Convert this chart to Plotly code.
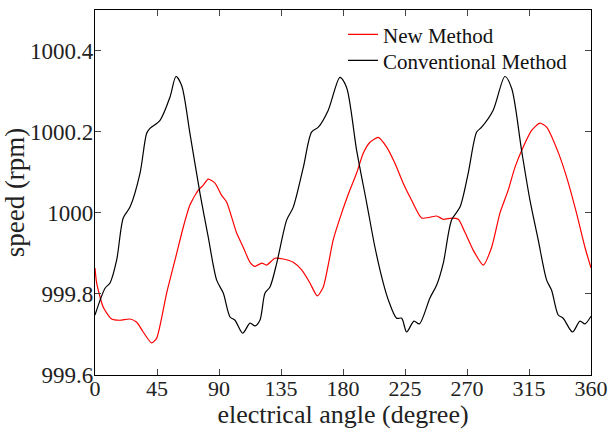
import plotly.graph_objects as go

# Conventional method (black)
conv_angle = [0, 7.3, 10.9, 15.7, 20.5, 25.4, 32.7, 37.5, 39.9, 47.2, 54.4, 58.8, 62.9, 68.9, 76.2,
              82.2, 88.3, 93.1, 98, 101.6, 107.2, 112.5, 116.1, 119.7, 123.4, 127, 131.9, 139.1,
              143.9, 151.2, 157.2, 162.1, 169.3, 177.8, 182.6, 189.9, 197.2, 203.2, 209.2, 212.9,
              218.9, 222.6, 226.2, 231.5, 235.4, 243.1, 248, 252.8, 258.8, 264.9, 270.9, 277,
              280.6, 289, 297.5, 302.4, 309.6, 315.7, 321.7, 327.8, 331.4, 336.2, 339.8, 346.6,
              352, 355.6, 360]
conv_speed = [999.748, 999.814, 999.827, 999.883, 999.987, 1000.014, 1000.098, 1000.196, 1000.208,
              1000.228, 1000.285, 1000.336, 1000.314, 1000.196, 1000.048, 999.94, 999.834, 999.802,
              999.743, 999.735, 999.703, 999.728, 999.721, 999.735, 999.802, 999.817, 999.876,
              999.982, 1000.014, 1000.112, 1000.199, 1000.211, 1000.253, 1000.334, 1000.309,
              1000.154, 1000.024, 999.915, 999.827, 999.785, 999.74, 999.74, 999.706, 999.733,
              999.726, 999.79, 999.822, 999.876, 999.982, 1000.014, 1000.098, 1000.199, 1000.211,
              1000.253, 1000.336, 1000.307, 1000.154, 1000.031, 999.933, 999.834, 999.809, 999.748,
              999.74, 999.706, 999.733, 999.726, 999.745]

# New method (red)
new_angle = [0, 1.2, 6, 12.1, 18.1, 25.4, 30.3, 35, 41.1, 44.8, 52, 59.3, 64.1, 68.9, 75, 78.6,
             82.2, 87.1, 91.9, 95.6, 102.8, 107.6, 112.5, 116.1, 121, 124.6, 130.6, 136.7, 143.9,
             150, 156, 161.3, 165.7, 172.9, 179, 185, 189.9, 194.7, 199.6, 205.6, 211.7, 217.7,
             223.7, 229.8, 237.1, 243.1, 248, 252.8, 258.8, 263.7, 268.5, 274.5, 281.8, 287.9,
             293.9, 299.9, 304.8, 310.8, 316.9, 322.9, 327.8, 336.2, 342.3, 349.5, 355.6, 360]
new_speed = [999.864, 999.827, 999.767, 999.738, 999.735, 999.738, 999.73, 999.706, 999.679,
             999.691, 999.802, 999.9, 999.965, 1000.019, 1000.056, 1000.068, 1000.083, 1000.073,
             1000.043, 1000.026, 999.95, 999.915, 999.878, 999.868, 999.876, 999.871, 999.888,
             999.886, 999.878, 999.859, 999.827, 999.795, 999.817, 999.933, 999.999, 1000.056,
             1000.098, 1000.147, 1000.174, 1000.186, 1000.162, 1000.122, 1000.073, 1000.031,
             999.987, 999.989, 999.992, 999.984, 999.987, 999.984, 999.952, 999.908, 999.871,
             999.915, 999.999, 1000.056, 1000.112, 1000.162, 1000.203, 1000.221, 1000.211,
             1000.149, 1000.088, 999.999, 999.915, 999.864]

x_ticks = [0, 45, 90, 135, 180, 225, 270, 315, 360]
y_ticks = [999.6, 999.8, 1000, 1000.2, 1000.4]
y_tick_text = ["999.6", "999.8", "1000", "1000.2", "1000.4"]

FONT = "Liberation Serif, Times New Roman, serif"

fig = go.Figure()
fig.add_trace(go.Scatter(x=new_angle, y=new_speed, mode="lines", name="New Method", legend="legend",
                         line=dict(color="#ff0000", width=1.2, shape="spline", smoothing=0.6)))
fig.add_trace(go.Scatter(x=conv_angle, y=conv_speed, mode="lines", name="Conventional Method",
                         legend="legend2",
                         line=dict(color="#000000", width=1.2, shape="spline", smoothing=0.8)))

leg_common = dict(x=0.5, xanchor="left", yanchor="middle", bgcolor="rgba(0,0,0,0)",
                  font=dict(size=21, family=FONT, color="#111"), itemwidth=30)

fig.update_layout(
    width=612, height=429,
    margin=dict(l=95, r=21, t=10, b=54),
    paper_bgcolor="white", plot_bgcolor="white",
    font=dict(family=FONT, size=22, color="#222"),
    showlegend=True,
    legend=dict(y=0.932, **leg_common),
    legend2=dict(y=0.861, **leg_common),
    xaxis=dict(range=[0, 360], tickvals=x_ticks, ticks="inside", ticklen=6,
               showline=True, linecolor="black", linewidth=1.2, mirror="ticks",
               showgrid=False, zeroline=False, automargin=False, ticklabelstandoff=-7,
               title=dict(text="electrical angle (degree)", font=dict(size=26, family=FONT), standoff=3),
               tickfont=dict(size=22, family=FONT)),
    yaxis=dict(range=[999.6, 1000.5], tickvals=y_ticks, ticktext=y_tick_text, ticks="inside",
               ticklen=6, showline=True, linecolor="black", linewidth=1.2, mirror="ticks",
               showgrid=False, zeroline=False, automargin=False, ticklabelstandoff=-4,
               title=dict(text="speed (rpm)", font=dict(size=27, family=FONT), standoff=0),
               tickfont=dict(size=23, family=FONT)),
)

fig.write_html("out.html", config={"displayModeBar": False},
               post_script="document.body.style.margin='0';")
